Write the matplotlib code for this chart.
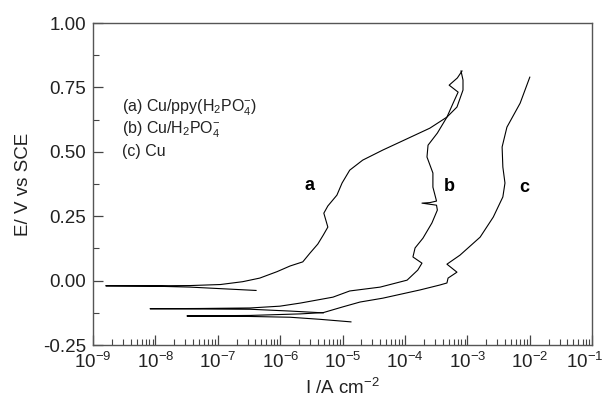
import numpy as np
import matplotlib
matplotlib.use("Agg")
import matplotlib.pyplot as plt
from matplotlib.ticker import LogLocator, FixedLocator, FormatStrFormatter, NullFormatter
from matplotlib.transforms import ScaledTranslation

plt.rcParams['font.family'] = ['Liberation Sans', 'DejaVu Sans']
plt.rcParams['mathtext.fontset'] = 'custom'
plt.rcParams['mathtext.rm'] = 'Liberation Sans'
plt.rcParams['mathtext.it'] = 'Liberation Sans:italic'
plt.rcParams['mathtext.bf'] = 'Liberation Sans:bold'

# curve a : Cu/ppy(H2PO4-)
a_i = [4.1e-7, 1.1e-7, 3.6e-8, 8.2e-9, 1.6e-9, 8.2e-9, 3.6e-8, 1.1e-7, 2.5e-7, 4.7e-7,
       8.9e-7, 1.44e-6, 2.3e-6, 3.0e-6, 4.0e-6, 4.9e-6, 5.8e-6, 5.0e-6, 5.8e-6, 8.1e-6,
       9.8e-6, 1.3e-5, 2.1e-5, 4.4e-5, 8.3e-5, 2.5e-4, 4.7e-4, 6.8e-4, 8.5e-4, 8.5e-4, 7.9e-4]
a_e = [-0.038, -0.031, -0.025, -0.021, -0.020, -0.020, -0.019, -0.015, -0.004, 0.010,
       0.035, 0.057, 0.073, 0.107, 0.142, 0.177, 0.208, 0.262, 0.290, 0.332,
       0.379, 0.429, 0.468, 0.507, 0.538, 0.592, 0.635, 0.674, 0.740, 0.779, 0.814]

# curve b : Cu/H2PO4-
b_i = [4.9e-6, 1.44e-6, 3.3e-7, 5.2e-8, 8.2e-9, 5.2e-8, 3.3e-7, 9.9e-7, 2.1e-6, 7.0e-6,
       1.3e-5, 4.0e-5, 1.08e-4, 1.6e-4, 1.87e-4, 1.34e-4, 1.45e-4, 1.94e-4, 2.7e-4, 3.3e-4,
       3.2e-4, 1.87e-4, 2.5e-4, 3.2e-4, 2.8e-4, 2.8e-4, 2.25e-4, 2.34e-4, 3.3e-4, 4.7e-4,
       5.9e-4, 7.1e-4, 5.1e-4, 6.9e-4, 8.2e-4]
b_e = [-0.125, -0.118, -0.111, -0.110, -0.109, -0.108, -0.106, -0.099, -0.087, -0.064,
       -0.040, -0.025, 0.002, 0.041, 0.068, 0.092, 0.127, 0.165, 0.224, 0.274,
       0.293, 0.301, 0.303, 0.309, 0.363, 0.418, 0.480, 0.526, 0.573, 0.635,
       0.689, 0.732, 0.759, 0.787, 0.814]

# curve c : Cu
c_i = [1.36e-5, 4.3e-6, 1.44e-6, 3.3e-7, 3.2e-8, 3.3e-7, 2.1e-6, 4.9e-6, 1.0e-5, 1.9e-5,
       4.4e-5, 1.74e-4, 3.6e-4, 4.7e-4, 4.9e-4, 6.8e-4, 4.7e-4, 7.6e-4, 1.6e-3, 2.6e-3,
       3.7e-3, 4.0e-3, 3.7e-3, 3.6e-3, 4.3e-3, 7.0e-3, 1.0e-2]
c_e = [-0.160, -0.150, -0.142, -0.139, -0.137, -0.135, -0.129, -0.124, -0.102, -0.083,
       -0.068, -0.036, -0.017, -0.009, 0.010, 0.033, 0.064, 0.099, 0.169, 0.247,
       0.325, 0.379, 0.441, 0.519, 0.596, 0.689, 0.790]

curve_labels = ['a', 'b', 'c']
label_i = [3.0e-6, 5.1e-4, 8.1e-3]
label_e = [0.37, 0.367, 0.363]

legend_lines = ['(a) Cu/ppy(H$_2$PO$_4^{-}$)', '(b) Cu/H$_2$PO$_4^{-}$', '(c) Cu']

fig = plt.figure(figsize=(6.08, 4.05), dpi=100)
ax = fig.add_axes([0.153, 0.148, 0.821, 0.795])

for xi, ye in [(a_i, a_e), (b_i, b_e), (c_i, c_e)]:
    ax.plot(xi, ye, color='black', lw=0.8)

for t, xi, ye in zip(curve_labels, label_i, label_e):
    ax.text(xi, ye, t, fontsize=13, fontweight='bold', ha='center', va='center')

for k, s in enumerate(legend_lines):
    ax.text(0.058, 0.736 - k * 0.068, s, transform=ax.transAxes, fontsize=11.5,
            ha='left', va='center', color='#222222')

ax.set_xscale('log')
ax.set_xlim(1e-9, 1e-1)
ax.set_ylim(-0.25, 1.0)
ax.xaxis.set_major_locator(LogLocator(base=10, numticks=20))
ax.xaxis.set_minor_locator(LogLocator(base=10, subs=np.arange(2, 10), numticks=20))
ax.xaxis.set_minor_formatter(NullFormatter())
ax.yaxis.set_major_locator(FixedLocator([-0.25, 0.0, 0.25, 0.5, 0.75, 1.0]))
ax.yaxis.set_minor_locator(FixedLocator([-0.125, 0.125, 0.375, 0.625, 0.875]))
ax.yaxis.set_major_formatter(FormatStrFormatter('%.2f'))

ax.tick_params(which='both', direction='in', top=False, right=False, labelsize=13.5,
               color='#444444', labelcolor='#222222')
ax.tick_params(which='major', length=7, width=0.9, pad=5)
ax.tick_params(which='minor', length=4.5, width=0.8)
for sp in ax.spines.values():
    sp.set_color('#555555')
    sp.set_linewidth(1.0)

ax.set_ylabel('E/ V vs SCE', fontsize=13.5, color='#222222', labelpad=8)
ax.set_xlabel('I /A cm$^{-2}$', fontsize=13.5, color='#222222', labelpad=4)

fig.canvas.draw()
last = [lab for lab in ax.get_xticklabels() if abs(lab.get_position()[0] - 1e-1) < 1e-6]
for lab in last:
    lab.set_transform(lab.get_transform() + ScaledTranslation(-7 / 100, 0, fig.dpi_scale_trans))

fig.savefig('out.png', dpi=100)
